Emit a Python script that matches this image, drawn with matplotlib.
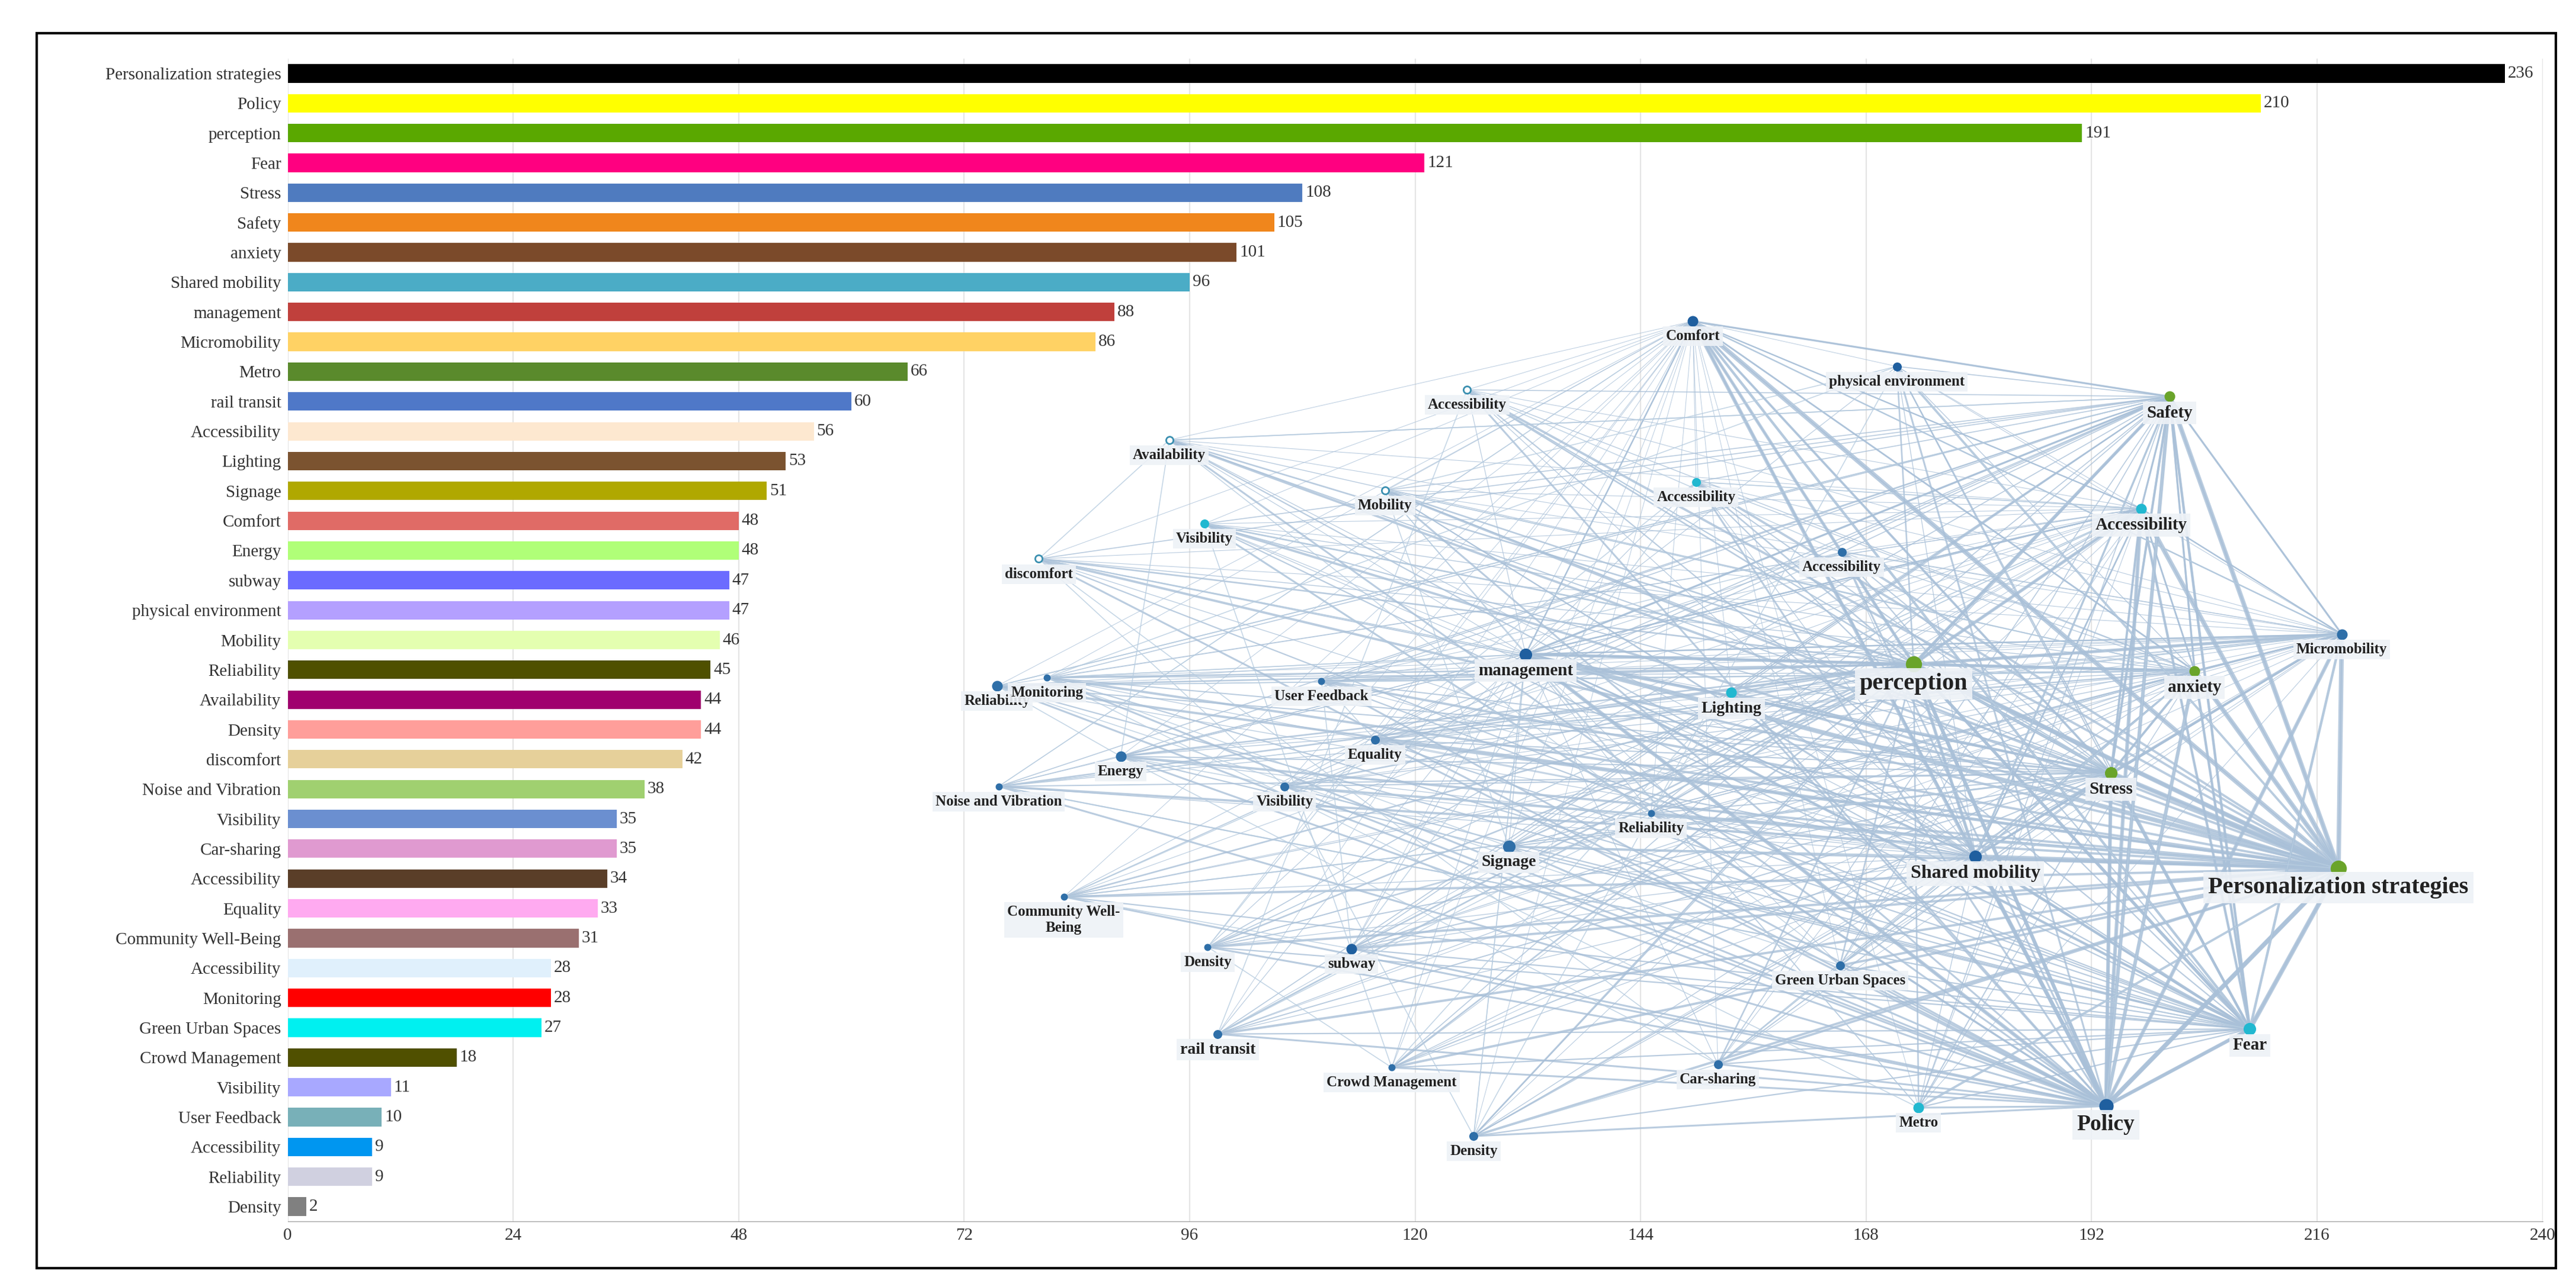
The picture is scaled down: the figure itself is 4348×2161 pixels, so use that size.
import matplotlib
matplotlib.use("Agg")
import matplotlib.pyplot as plt
from matplotlib.patches import Rectangle

# ---- bar data ----
categories = ["Personalization strategies", "Policy", "perception", "Fear", "Stress", "Safety",
              "anxiety", "Shared mobility", "management", "Micromobility", "Metro", "rail transit",
              "Accessibility", "Lighting", "Signage", "Comfort", "Energy", "subway",
              "physical environment", "Mobility", "Reliability", "Availability", "Density",
              "discomfort", "Noise and Vibration", "Visibility", "Car-sharing", "Accessibility",
              "Equality", "Community Well-Being", "Accessibility", "Monitoring", "Green Urban Spaces",
              "Crowd Management", "Visibility", "User Feedback", "Accessibility", "Reliability", "Density"]
counts = [236, 210, 191, 121, 108, 105, 101, 96, 88, 86, 66, 60, 56, 53, 51, 48, 48, 47, 47, 46,
          45, 44, 44, 42, 38, 35, 35, 34, 33, 31, 28, 28, 27, 18, 11, 10, 9, 9, 2]
bar_colors = ["#000000", "#ffff00", "#5aa800", "#ff0080", "#4f7bbf", "#f0861c", "#7b4a2a",
              "#4bacc6", "#c0403c", "#ffd264", "#5a8a2c", "#4f78c8", "#fde8d0", "#7b5330",
              "#b0a800", "#e06b66", "#b0ff78", "#6b6bff", "#b4a0ff", "#e4ffb0", "#4f5000",
              "#a0006e", "#ff9e9a", "#e6d09a", "#a0d070", "#6b8fd0", "#e09ad0", "#5a3e28",
              "#ffaaf0", "#9a7070", "#e0f0fc", "#ff0000", "#00f0f0", "#505000", "#a8a8ff",
              "#78b0b8", "#0096f0", "#d0d0e0", "#808080"]
x_ticks = [0, 24, 48, 72, 96, 120, 144, 168, 192, 216, 240]

# ---- network data (layout in reference pixel space, 1540 x 765) ----
node_names = ["Comfort", "physical environment", "Accessibility", "Safety", "Availability",
              "Mobility", "Accessibility", "Visibility", "Accessibility", "discomfort",
              "Accessibility", "Micromobility", "management", "perception", "anxiety",
              "Reliability", "Monitoring", "User Feedback", "Lighting", "Equality", "Energy",
              "Stress", "Noise and Vibration", "Visibility", "Reliability", "Signage",
              "Shared mobility", "Personalization strategies", "Community Well-\nBeing", "Density",
              "subway", "Green Urban Spaces", "rail transit", "Fear", "Car-sharing",
              "Crowd Management", "Metro", "Policy", "Density"]
node_x = [1012, 1134, 877, 1297, 699, 828, 1014, 720, 1280, 621, 1101, 1400, 912, 1144, 1312,
          596, 626, 790, 1035, 822, 670, 1262, 597, 768, 987, 902, 1181, 1398, 636, 722, 808,
          1100, 728, 1345, 1027, 832, 1147, 1259, 881]
node_y = [192, 219, 233, 237, 263, 293, 288, 313, 304, 334, 330, 379, 391, 397, 401, 410, 405,
          407, 414, 442, 452, 462, 470, 470, 486, 506, 512, 519, 536, 566, 567, 577, 618, 615,
          636, 638, 662, 661, 679]
node_colors = ["#1f5f9f", "#1f5f9f", "none", "#6aa42a", "none", "none", "#22b8d0", "#22b8d0",
               "#22b8d0", "none", "#2f6fa8", "#2f6fa8", "#1f5f9f", "#6aa42a", "#6aa42a",
               "#2f6fa8", "#2f6fa8", "#2f6fa8", "#22b8d0", "#2f6fa8", "#2f6fa8", "#6aa42a",
               "#2f6fa8", "#2f6fa8", "#2f6fa8", "#2f6fa8", "#1f5f9f", "#6aa42a", "#2f6fa8",
               "#2f6fa8", "#1f5f9f", "#2f6fa8", "#2f6fa8", "#22b8d0", "#2f6fa8", "#2f6fa8",
               "#22b8d0", "#1f5f9f", "#2f6fa8"]
node_sizes = [5, 4, 4, 5, 4, 4, 4, 4, 5, 4, 4, 5, 6, 8, 5, 5, 3, 3, 5, 4, 5, 6, 3, 4, 3, 6,
              6, 8, 3, 3, 5, 4, 4, 6, 4, 3, 5, 7, 4]
label_sizes = [18, 18, 18, 21, 18, 18, 18, 18, 21, 18, 18, 18, 21, 29, 21, 18, 18, 18, 20, 18,
               18, 21, 18, 18, 18, 20, 23, 29, 18, 18, 18, 18, 20, 21, 18, 18, 18, 27, 18]
hubs = [27, 37, 13, 33, 21, 3, 14, 26, 12, 11, 8, 0]
hub_weights = [3.5, 2.8, 2.4, 2.0, 1.8, 1.5, 1.3, 1.2, 1.1, 1.0, 1.0, 0.9]

FONT = "Liberation Serif"
W, H = 1540, 765
fig = plt.figure(figsize=(43.48, 21.61), dpi=100)
fig.patches.append(Rectangle((22 / W, 1 - 758 / H), 1506 / W, 738 / H, transform=fig.transFigure,
                             fill=False, lw=3, ec="black"))

ax = fig.add_axes([172 / W, 1 - 730 / H, 1348 / W, 695 / H])
ypos = list(range(len(categories)))
ax.barh(ypos, counts, color=bar_colors, height=0.62, zorder=3)
for y, v in zip(ypos, counts):
    ax.text(v + 0.3, y, str(v), va="center", ha="left", fontsize=21, family=FONT, color="#333")
ax.set_yticks(ypos)
ax.set_yticklabels(categories, fontsize=21, family=FONT, color="#333")
ax.set_ylim(len(categories) - 0.5, -0.5)
ax.set_xlim(0, 240)
ax.set_xticks(x_ticks)
ax.set_xticklabels([str(t) for t in x_ticks], fontsize=21, family=FONT, color="#333")
ax.grid(axis="x", color="#e4e4e4", lw=1.5, zorder=0)
for s in ["top", "right", "left"]:
    ax.spines[s].set_visible(False)
ax.spines["bottom"].set_color("#999")
ax.tick_params(length=0, pad=8)

# network overlay
nx = fig.add_axes([0, 0, 1, 1])
nx.set_xlim(0, W)
nx.set_ylim(H, 0)
nx.axis("off")
nx.patch.set_alpha(0)
n = len(node_names)
for hi, w in zip(hubs, hub_weights):
    for j in range(n):
        if j == hi:
            continue
        nx.plot([node_x[hi], node_x[j]], [node_y[hi], node_y[j]], color="#a9c0d8",
                lw=w * (1.6 if j in hubs else 0.8), alpha=0.8, zorder=1)
for j in range(n):
    for k in range(j + 1, n):
        if (j * 7 + k * 3) % 11 == 0:
            nx.plot([node_x[j], node_x[k]], [node_y[j], node_y[k]], color="#b8cde0",
                    lw=1.2, alpha=0.8, zorder=1)
for i in range(n):
    fc = node_colors[i]
    nx.plot(node_x[i], node_y[i], "o", ms=node_sizes[i] * 2.2,
            mfc="white" if fc == "none" else fc,
            mec="#3a8fb0" if fc == "none" else fc, mew=2, zorder=3)
    nx.text(node_x[i], node_y[i] + 5, node_names[i], ha="center", va="top",
            fontsize=label_sizes[i], family=FONT, weight="bold", color="#222",
            bbox=dict(boxstyle="square,pad=0.2", fc="#eef2f7", ec="none", alpha=0.9), zorder=4)

fig.savefig("out.png", dpi=100)
